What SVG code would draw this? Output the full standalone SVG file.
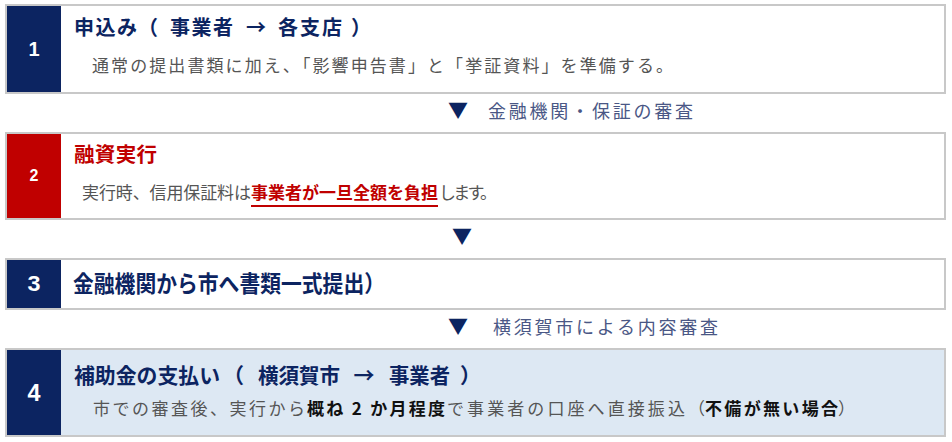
<svg xmlns="http://www.w3.org/2000/svg" width="952" height="442" viewBox="0 0 952 442">
<style>
.box{fill:#ffffff;stroke:#c8c8c8;stroke-width:2}
.box4{fill:#dde8f3;stroke:#c8c8c8;stroke-width:2}
.navy{fill:#0c2461}
.red{fill:#c00000}
.num{font-family:"Liberation Sans","Noto Sans",sans-serif;font-weight:bold;fill:#ffffff;text-anchor:middle}
.title{font-family:"Noto Sans CJK JP","Noto Sans",sans-serif;font-weight:bold;fill:#0c2461}
.sub{font-family:"Noto Sans CJK JP","Noto Sans",sans-serif;fill:#555555;font-size:17px}
.strong{font-weight:bold;fill:#111111}
.tri{font-family:"Noto Sans CJK JP","DejaVu Sans",sans-serif;fill:#0c2461;font-size:20px}
.lab{font-family:"Noto Sans CJK JP","Noto Sans",sans-serif;fill:#4a5785;font-size:18px}
</style>
<g id="connectors">
<text class="tri" x="448" y="118">▼</text>
<text class="lab" x="488" y="118" textLength="205" lengthAdjust="spacing">金融機関・保証の審査</text>
<text class="tri" x="452" y="244">▼</text>
<text class="tri" x="448" y="334">▼</text>
<text class="lab" x="493" y="334" textLength="225" lengthAdjust="spacing">横須賀市による内容審査</text>
</g>
<g id="step1">
<rect class="box" x="6" y="5" width="939" height="88"/>
<rect class="navy" x="7" y="6" width="54" height="86"/>
<text class="num" x="34" y="56" font-size="20">1</text>
<text class="title" font-size="20" y="35"><tspan x="74" textLength="63" lengthAdjust="spacing">申込み</tspan><tspan x="138">（</tspan><tspan x="170" textLength="63" lengthAdjust="spacing">事業者</tspan><tspan x="256" text-anchor="middle">→</tspan><tspan x="278" textLength="64" lengthAdjust="spacing">各支店</tspan><tspan x="351">）</tspan></text>
<text class="sub" x="92" y="72" textLength="581" lengthAdjust="spacing">通常の提出書類に加え、「影響申告書」と「挙証資料」を準備する。</text>
</g>
<g id="step2">
<rect class="box" x="6" y="133" width="939" height="86"/>
<rect class="red" x="7" y="134" width="54" height="84"/>
<text class="num" x="34" y="181" font-size="16">2</text>
<text class="title" x="74" y="162" font-size="20.5" style="fill:#c00000" textLength="83" lengthAdjust="spacing">融資実行</text>
<text class="sub" x="82" y="199" textLength="169" lengthAdjust="spacing">実行時、信用保証料は</text>
<text class="sub" x="251" y="199" style="fill:#c00000;font-weight:bold" textLength="187" lengthAdjust="spacing">事業者が一旦全額を負担</text>
<line x1="251" y1="206" x2="438" y2="206" stroke="#c00000" stroke-width="2"/>
<text class="sub" x="439" y="199" textLength="58" lengthAdjust="spacing">します。</text>
</g>
<g id="step3">
<rect class="box" x="6" y="259" width="939" height="50"/>
<rect class="navy" x="7" y="260" width="54" height="48"/>
<text class="num" x="34" y="291" font-size="22" textLength="13" lengthAdjust="spacingAndGlyphs">3</text>
<text class="title" x="73" y="292" font-size="23" textLength="312" lengthAdjust="spacingAndGlyphs">金融機関から市へ書類一式提出）</text>
</g>
<g id="step4">
<rect class="box4" x="6" y="349" width="939" height="87"/>
<rect class="navy" x="7" y="350" width="54" height="85"/>
<text class="num" x="34" y="401" font-size="24" textLength="13" lengthAdjust="spacingAndGlyphs">4</text>
<text class="title" font-size="21" y="383"><tspan x="74" textLength="146" lengthAdjust="spacingAndGlyphs">補助金の支払い</tspan><tspan x="223">（</tspan><tspan x="258" textLength="82" lengthAdjust="spacingAndGlyphs">横須賀市</tspan><tspan x="364" text-anchor="middle">→</tspan><tspan x="389" textLength="61" lengthAdjust="spacingAndGlyphs">事業者</tspan><tspan x="460">）</tspan></text>
<text class="sub" x="93" y="415" textLength="212" lengthAdjust="spacing">市での審査後、実行から</text>
<text class="sub strong" x="307" y="415" textLength="138" lengthAdjust="spacing" xml:space="preserve">概ね 2 か月程度</text>
<text class="sub" x="447" y="415" textLength="258" lengthAdjust="spacing">で事業者の口座へ直接振込（</text>
<text class="sub strong" x="705" y="415" textLength="133" lengthAdjust="spacing">不備が無い場合</text>
<text class="sub" x="838" y="415">）</text>
</g>
</svg>
